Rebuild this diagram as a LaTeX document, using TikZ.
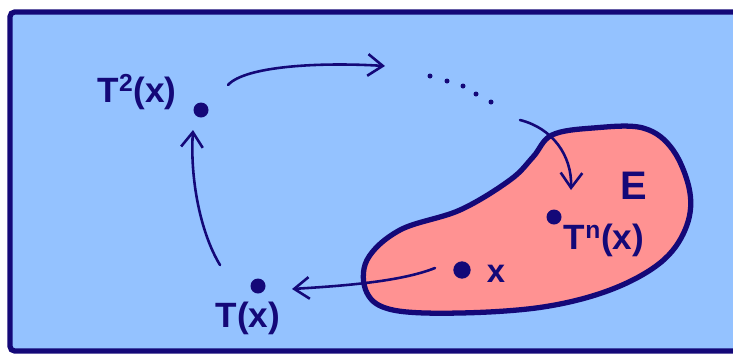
\documentclass[tikz,border=0pt]{standalone}
\usepackage{fontspec}
\setsansfont{Liberation Sans}
\usepackage{tikz}
\usetikzlibrary{arrows.meta}
\definecolor{ink}{RGB}{20,8,120}
\definecolor{sky}{RGB}{148,194,255}
\definecolor{blush}{RGB}{255,146,146}
\tikzset{
  dot/.style     = {circle, fill=ink, inner sep=0pt, minimum size=0.45cm},
  tinydot/.style = {circle, fill=ink, inner sep=0pt, minimum size=0.15cm},
  lbl/.style     = {text=ink, inner sep=0pt,
                    font=\sffamily\bfseries\fontsize{30}{34}\selectfont},
  arrow/.style   = {draw=ink, line width=2.2pt, line cap=round,
                    -{Straight Barb[length=0.45cm, width=0.65cm, line width=2.2pt]}},
}

\begin{document}
\begin{tikzpicture}[x=0.03cm, y=-0.03cm]
    \useasboundingbox (0,0) rectangle (733,354);

    %% Frame
    \draw[ink, line width=4.5pt, fill=sky, rounded corners=4pt] (10,12) rectangle (770,351);

    %% The set E
    \draw[ink, line width=4.5pt, fill=blush] plot[smooth cycle, tension=0.6] coordinates {
        (552,135) (593,128) (643,128) (673,150) (690,193) (685,230) (660,263)
        (610,290) (543,307) (460,313) (393,310) (367,293) (367,260) (400,230)
        (460,210) (510,180) (533,157)};
    \node[lbl, font=\sffamily\bfseries\fontsize{34}{38}\selectfont] (E) at (634,186) {E};

    %% Orbit points
    \node[dot, minimum size=0.52cm] (x) at (462,270) {};
    \node[lbl, font=\sffamily\bfseries\fontsize{28}{32}\selectfont] (xlab) at (496,274) {x};
    \node[dot] (tx)  at (258,286) {};
    \node[lbl] (txlab) at (248,318) {T(x)};
    \node[dot] (t2x) at (201,110) {};
    \node[lbl] (t2xlab) at (137,92) {T\textsuperscript{2}(x)};
    \node[dot] (tnx) at (554,217) {};
    \node[lbl] (tnxlab) at (604,240) {T\textsuperscript{n}(x)};

    %% Dotted continuation
    \foreach \px/\py [count=\i] in {430/76, 447/81, 463/86, 476/94, 491/102}
        \node[tinydot] (d\i) at (\px,\py) {};

    %% Arrow ends
    \coordinate (a1s) at (228,85);  \coordinate (a1e) at (385,66);
    \coordinate (a2s) at (520,120); \coordinate (a2e) at (571,190);
    \coordinate (a3s) at (435,268); \coordinate (a3e) at (292,289);
    \coordinate (a4s) at (220,265); \coordinate (a4e) at (193,130);

    \draw[arrow] (a1s) .. controls (245,66) and (320,62) .. (a1e);
    \draw[arrow] (a2s) .. controls (552,128) and (572,155) .. (a2e);
    \draw[arrow] (a3s) .. controls (400,282) and (340,286) .. (a3e);
    \draw[arrow] (a4s) .. controls (200,232) and (190,178) .. (a4e);

\end{tikzpicture}
\end{document}
